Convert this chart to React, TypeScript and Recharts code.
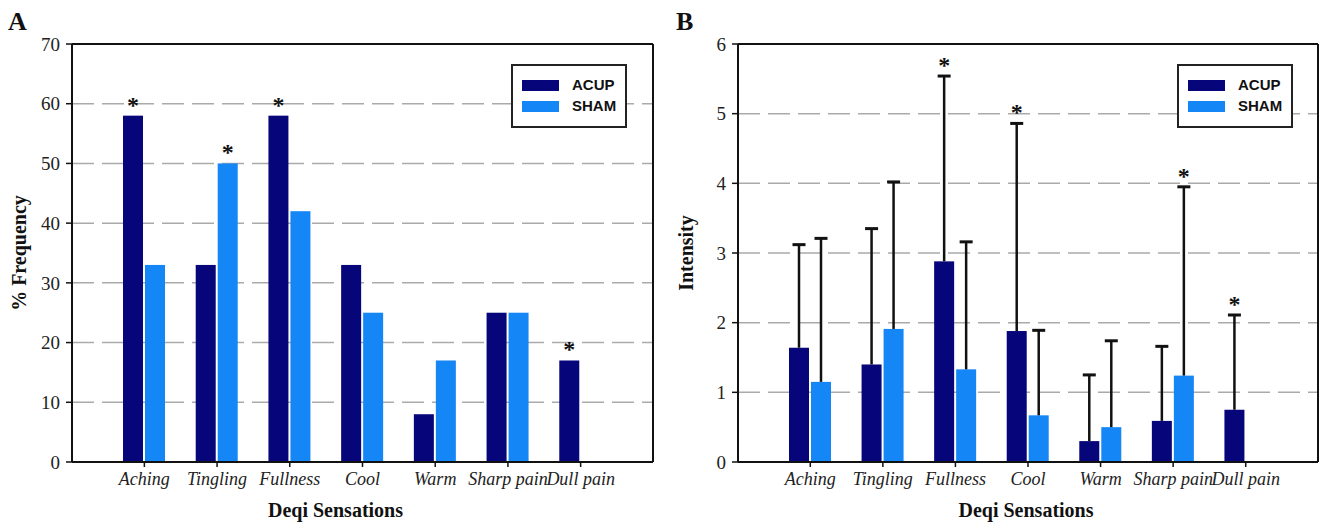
import React from "react";
import { BarChart, Bar, XAxis, YAxis, CartesianGrid, Legend, ReferenceLine } from "recharts";

const categories = ["Aching", "Tingling", "Fullness", "Cool", "Warm", "Sharp pain", "Dull pain"];

// panel A: % frequency
const freqAcup = [58, 33, 58, 33, 8, 25, 17];
const freqSham = [33, 50, 42, 25, 17, 25, 0];
const freqAcupSig = [true, false, true, false, false, false, true];
const freqShamSig = [false, true, false, false, false, false, false];
const freqTicks = [0, 10, 20, 30, 40, 50, 60, 70];

// panel B: intensity, mean + SD (upper whisker only)
const intAcup = [1.64, 1.4, 2.88, 1.88, 0.3, 0.59, 0.75];
const intAcupSd = [1.48, 1.95, 2.66, 2.98, 0.95, 1.07, 1.36];
const intSham = [1.15, 1.91, 1.33, 0.67, 0.5, 1.24, 0];
const intShamSd = [2.06, 2.11, 1.83, 1.22, 1.24, 2.71, 0];
const intAcupSig = [false, false, true, true, false, false, true];
const intShamSig = [false, false, false, false, false, true, false];
const intTicks = [0, 1, 2, 3, 4, 5, 6];

const ACUP = "#06067a";
const SHAM = "#1486f6";
const SERIF = "'Liberation Serif', 'Times New Roman', serif";
const SANS = "'Liberation Sans', Arial, sans-serif";

const freqData = categories.map((name, i) => ({
  name,
  acup: freqAcup[i],
  sham: freqSham[i],
  acupSig: freqAcupSig[i],
  shamSig: freqShamSig[i],
}));

const intData = categories.map((name, i) => ({
  name,
  acup: intAcup[i],
  sham: intSham[i],
  acupSd: intAcupSd[i],
  shamSd: intShamSd[i],
  acupSig: intAcupSig[i],
  shamSig: intShamSig[i],
}));

// bar + optional upper whisker + significance star
const makeShape = (key: "acup" | "sham", withErr: boolean) => (props: any) => {
  const { x, y, width, height, fill, payload } = props;
  const value = payload[key];
  const sd = withErr ? payload[key + "Sd"] : 0;
  const cx = x + width / 2;
  // whisker length in px, using the bar's own px-per-unit
  const errPx = value > 0 && height > 0 ? (sd * height) / value : 0;
  const top = y - errPx;
  return (
    <g>
      {height > 0 && <rect x={x} y={y} width={width} height={height} fill={fill} />}
      {errPx > 0 && (
        <g stroke="#111">
          <line x1={cx} x2={cx} y1={y} y2={top} strokeWidth={2.5} />
          <line x1={cx - 6.5} x2={cx + 6.5} y1={top} y2={top} strokeWidth={3} />
        </g>
      )}
      {payload[key + "Sig"] && (
        <text x={cx} y={top - 3} textAnchor="middle" fontFamily={SERIF} fontWeight="bold" fontSize={24} fill="#111">
          *
        </text>
      )}
    </g>
  );
};

const YTitle = ({ viewBox, text, cx }: any) => {
  const cy = viewBox.y + viewBox.height / 2;
  return (
    <text
      x={cx}
      y={cy}
      transform={`rotate(-90, ${cx}, ${cy})`}
      textAnchor="middle"
      dominantBaseline="central"
      fontFamily={SERIF}
      fontWeight="bold"
      fontSize={20}
      fill="#111"
    >
      {text}
    </text>
  );
};

const XTitle = ({ viewBox, text, dx }: any) => (
  <text
    x={viewBox.x + viewBox.width / 2 + dx}
    y={viewBox.y + viewBox.height - 6}
    textAnchor="middle"
    fontFamily={SERIF}
    fontWeight="bold"
    fontSize={20}
    fill="#111"
  >
    {text}
  </text>
);

const LegendBox = ({ payload }: any) => (
  <div
    style={{
      width: 116,
      height: 64,
      border: "2px solid #222",
      boxSizing: "border-box",
      background: "#fff",
      position: "relative",
      fontFamily: SANS,
      fontWeight: 700,
      fontSize: 15,
      color: "#111",
    }}
  >
    {(payload || []).map((p: any, i: number) => (
      <div key={p.value} style={{ position: "absolute", left: 9, top: 12 + i * 21, height: 14, display: "flex", alignItems: "center" }}>
        <div style={{ width: 37, height: 11, background: p.color }} />
        <span style={{ marginLeft: 13, lineHeight: "14px" }}>{p.value}</span>
      </div>
    ))}
  </div>
);

const tickStyle = { fontFamily: SERIF, fontSize: 19, fill: "#222" };
const axisLine = { stroke: "#111", strokeWidth: 2 };

function Panel({
  data,
  width,
  left,
  yWidth,
  right,
  ticks,
  yTitle,
  yTitleX,
  xTitleDx,
  legendLeft,
  withErr,
}: any) {
  const top = ticks[ticks.length - 1];
  return (
    <div style={{ position: "absolute", left, top: 0 }}>
      <BarChart
        width={width}
        height={523}
        data={data}
        margin={{ top: 44, right, bottom: 0, left: 0 }}
        barSize={20}
        barGap={2}
      >
        <CartesianGrid vertical={false} stroke="#aaa" strokeWidth={1.5} strokeDasharray="22 8" />
        <XAxis
          dataKey="name"
          height={61}
          interval={0}
          padding={{ left: 36, right: 36 }}
          tickSize={5}
          tickMargin={5}
          axisLine={axisLine}
          tickLine={{ stroke: "#111", strokeWidth: 1.5 }}
          tick={{ ...tickStyle, fontSize: 18, fontStyle: "italic" }}
          label={(p: any) => <XTitle {...p} text="Deqi Sensations" dx={xTitleDx} />}
        />
        <YAxis
          width={yWidth}
          domain={[ticks[0], top]}
          ticks={ticks}
          interval={0}
          tickSize={6}
          tickMargin={6}
          axisLine={axisLine}
          tickLine={{ stroke: "#111", strokeWidth: 1.5 }}
          tick={tickStyle}
          label={(p: any) => <YTitle {...p} text={yTitle} cx={yTitleX} />}
        />
        {/* right-hand frame edge */}
        <YAxis
          yAxisId="frame"
          type="number"
          orientation="right"
          width={1}
          domain={[ticks[0], top]}
          ticks={ticks}
          tick={false}
          tickLine={false}
          axisLine={axisLine}
        />
        <ReferenceLine y={top} stroke="#111" strokeWidth={2} />
        <Legend
          layout="horizontal"
          verticalAlign="middle"
          align="center"
          wrapperStyle={{ position: "absolute", left: legendLeft, top: 64, width: 116, height: 64 }}
          content={<LegendBox />}
        />
        <Bar dataKey="acup" name="ACUP" fill={ACUP} shape={makeShape("acup", withErr)} isAnimationActive={false} />
        <Bar dataKey="sham" name="SHAM" fill={SHAM} shape={makeShape("sham", withErr)} isAnimationActive={false} />
      </BarChart>
    </div>
  );
}

export default function App() {
  return (
    <div style={{ position: "absolute", left: 0, top: 0, width: 1325, height: 523, background: "#fff" }}>
      <Panel
        data={freqData}
        width={662}
        left={0}
        yWidth={72}
        right={8}
        ticks={freqTicks}
        yTitle="% Frequency"
        yTitleX={19}
        xTitleDx={-27}
        legendLeft={511}
        withErr={false}
      />
      <Panel
        data={intData}
        width={663}
        left={662}
        yWidth={76}
        right={6}
        ticks={intTicks}
        yTitle="Intensity"
        yTitleX={24}
        xTitleDx={-2}
        legendLeft={515}
        withErr={true}
      />
      <svg width={1325} height={40} style={{ position: "absolute", left: 0, top: 0, pointerEvents: "none" }}>
        <text x={8} y={30} fontFamily={SERIF} fontWeight="bold" fontSize={26} fill="#111">
          A
        </text>
        <text x={676} y={30} fontFamily={SERIF} fontWeight="bold" fontSize={26} fill="#111">
          B
        </text>
      </svg>
    </div>
  );
}
